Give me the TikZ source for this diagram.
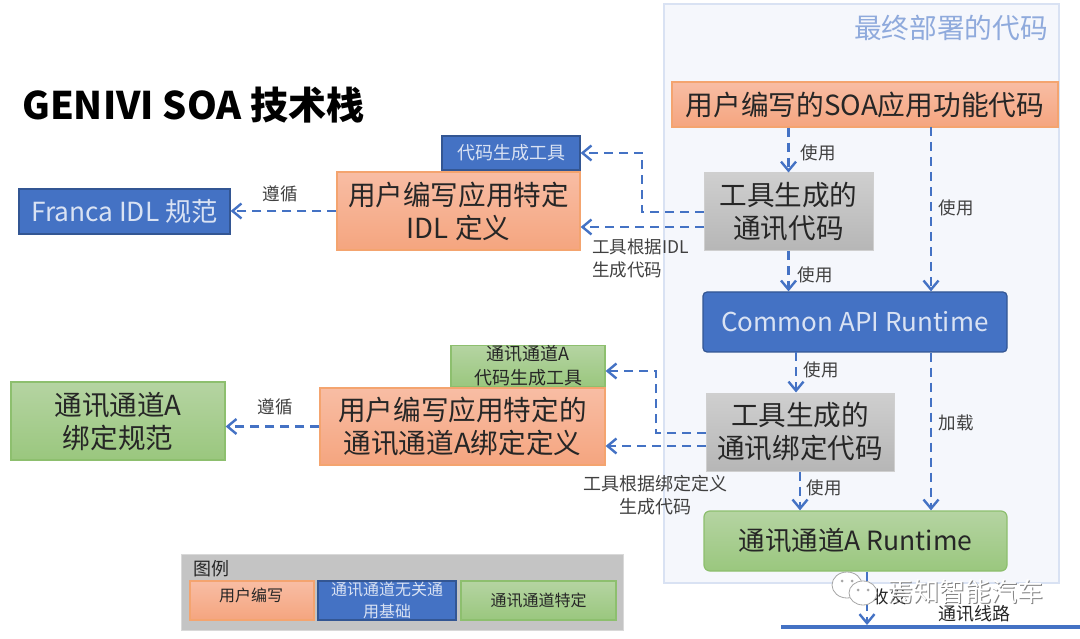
\documentclass[tikz,border=0pt]{standalone}
\usepackage{fontspec}
\setmainfont{Noto Sans CJK SC}
\usetikzlibrary{arrows.meta}
\definecolor{flowblue}{HTML}{4472C4}
\definecolor{panelfill}{HTML}{F5F7FC}
\definecolor{panelline}{HTML}{D9E2F3}
\definecolor{titleblue}{HTML}{8FAADC}
\definecolor{boxtext}{HTML}{262626}
\definecolor{notetext}{HTML}{404040}
\definecolor{orangetop}{HTML}{F8BDA4}
\definecolor{orangelow}{HTML}{F5A57F}
\definecolor{orangeline}{HTML}{F4A46F}
\definecolor{greentop}{HTML}{B5D4A2}
\definecolor{greenlow}{HTML}{9AC77E}
\definecolor{greenline}{HTML}{8DBF6E}
\definecolor{graytop}{HTML}{CFCFCF}
\definecolor{graylow}{HTML}{B6B6B6}
\definecolor{legendgray}{HTML}{C4C4C4}
\newcommand{\sizept}[2]{\fontsize{#1pt}{#2pt}\selectfont}
\tikzset{
         flow/.style={flowblue,line width=2.3,dash pattern=on 9pt off 6pt,-{Straight Barb[length=9pt,width=15pt,line width=2.4pt]}},
         plainbox/.style={inner sep=0,align=center,text=boxtext},
         orangebox/.style={plainbox,draw=orangeline,top color=orangetop,bottom color=orangelow,line width=1.2},
         greenbox/.style={plainbox,draw=greenline,top color=greentop,bottom color=greenlow,line width=1.2},
         graybox/.style={plainbox,draw=graytop,top color=graytop,bottom color=graylow,line width=1},
         bluebox/.style={plainbox,draw=flowblue!75!black,fill=flowblue,text=panelline,line width=1.2},
         note/.style={inner sep=0,align=center,text=notetext,font=\sizept{17.5}{23}},
         bignote/.style={plainbox,font=\sizept{27.6}{33}},
         midnote/.style={plainbox,font=\sizept{18}{24}},
         keynote/.style={plainbox,font=\sizept{16}{22}}
        }
\begin{document}
\begin{tikzpicture}[x=1pt,y=-1pt]
\useasboundingbox(0,0)rectangle(1080,639);

%deployed code panel
\draw[fill=panelfill,draw=panelline,line width=1.2](664,4)rectangle(1059,583);
\node[inner sep=0,text=titleblue,font=\sizept{27.7}{33}](paneltitle)at(951,28){最终部署的代码};

%heading
\node[inner sep=0,anchor=west,font=\sizept{38}{42}\bfseries](heading)at(22,105){GENIVI SOA 技术栈};

%right column
\node[orangebox,minimum width=386,minimum height=45,font=\sizept{27.7}{33}](usercode)at(865,104.5){用户编写的SOA应用功能代码};
\node[graybox,bignote,minimum width=169,minimum height=78](commcode)at(788.5,212){工具生成的\\通讯代码};
\node[bluebox,rounded corners=4,minimum width=304,minimum height=60,font=\sizept{26}{30}](commonapi)at(855,322){Common API Runtime};
\node[graybox,bignote,minimum width=188,minimum height=78](bindcode)at(800,432){工具生成的\\通讯绑定代码};
\node[greenbox,rounded corners=6,minimum width=303,minimum height=60,font=\sizept{26.5}{30}](runtime)at(855.5,541){通讯通道A Runtime};

%left column
\node[bluebox,minimum width=211,minimum height=45,font=\sizept{26.3}{30}](franca)at(124.5,211.5){Franca IDL 规范};
\node[orangebox,bignote,minimum width=243,minimum height=78](idl)at(458.5,211){用户编写应用特定\\IDL 定义};
\node[bluebox,minimum width=138,minimum height=34,font=\sizept{18}{24}](codegen)at(511,153){代码生成工具};
\node[greenbox,bignote,minimum width=214,minimum height=78](bindspec)at(118,421){通讯通道A\\绑定规范};
\node[greenbox,midnote,minimum width=154,minimum height=40](bindgen)at(528,366){通讯通道A\\代码生成工具};
\node[orangebox,bignote,minimum width=285,minimum height=77](binddef)at(462.5,426.5){用户编写应用特定的\\通讯通道A绑定定义};

%free ends of the connectors
\coordinate(commup)at(704,212);
\coordinate(commlow)at(704,227);
\coordinate(bindup)at(706,433);
\coordinate(bindlow)at(706,446);
\coordinate(rightdown)at(931,127);
\coordinate(middown)at(796,352);
\coordinate(leftbend)at(642,153);
\coordinate(lowbend)at(656,371);
\coordinate(linkbar)at(867,625);

%uses
\draw[flow](commcode.north|-usercode.south)--(commcode.north);
\draw[flow](rightdown)--(rightdown|-commonapi.north);
\draw[flow](commcode.south)--(commcode.south|-commonapi.north);
\draw[flow](middown)--(middown|-bindcode.north);
\draw[flow](rightdown|-commonapi.south)--(rightdown|-runtime.north);
\draw[flow](bindcode.south)--(bindcode.south|-runtime.north);
\draw[flow](linkbar|-runtime.south)--(linkbar);

%to the left
\draw[flow](commup)-|(leftbend)--(codegen.east);
\draw[flow](commlow)--(commlow-|idl.east);
\draw[flow](idl.west)--(idl.west-|franca.east);
\draw[flow](bindup)-|(lowbend)--(lowbend-|bindgen.east);
\draw[flow](bindlow)--(bindlow-|binddef.east);
\draw[flow](binddef.west)--(binddef.west-|bindspec.east);

%labels
\node[note](usea)at(818,153){使用};
\node[note](useb)at(956,208){使用};
\node[note](usec)at(815,275){使用};
\node[note](used)at(821,370){使用};
\node[note](loada)at(956,423){加载};
\node[note](usee)at(824,488){使用};
\node[note](followa)at(280,194){遵循};
\node[note](followb)at(275,407){遵循};
\node[note,align=left,anchor=north west](idlnote)at(592,239){工具根据IDL\\生成代码};
\node[note,font=\sizept{18}{23}](bindnote)at(655,495){工具根据绑定定义\\生成代码};

%legend
\node[graybox,draw=gray!30,top color=legendgray,bottom color=legendgray,minimum width=442,minimum height=76](legend)at(402,592){};
\node[note,text=boxtext,font=\sizept{18}{23}](legendtitle)at(211,569){图例};
\node[orangebox,keynote,minimum width=124,minimum height=39](keyuser)at(252,600.5){};
\node[note,text=boxtext,font=\sizept{16}{22}](keyusertext)at(251,595){用户编写};
\node[bluebox,keynote,minimum width=138,minimum height=39,text=panelline](keybase)at(387,600.5){通讯通道无关通\\用基础};
\node[greenbox,keynote,minimum width=155,minimum height=39](keychan)at(538.5,600.5){通讯通道特定};

%line at the bottom
\node[inner sep=0,fill=flowblue,minimum width=299,minimum height=4](linebar)at(930.5,627){};
\node[note,text=boxtext,font=\sizept{18}{22}](linename)at(974,614){通讯线路};
\node[note,text=boxtext](sendname)at(889,597){收发};

%watermark
\draw[gray!70,fill=white,line width=.8](847,585)ellipse(15 and 13);
\draw[gray!70,fill=white,line width=.8](863,593)ellipse(14 and 12);
\fill[gray!70](842,581)circle(1.5)(852,581)circle(1.5)(858,590)circle(1.5)(868,590)circle(1.5);
\node[inner sep=0,text=gray,font=\sizept{26}{30}](markshade)at(966,593){焉知智能汽车};
\node[inner sep=0,text=white,font=\sizept{26}{30}](marktext)at(965,592){焉知智能汽车};
\end{tikzpicture}
\end{document}
